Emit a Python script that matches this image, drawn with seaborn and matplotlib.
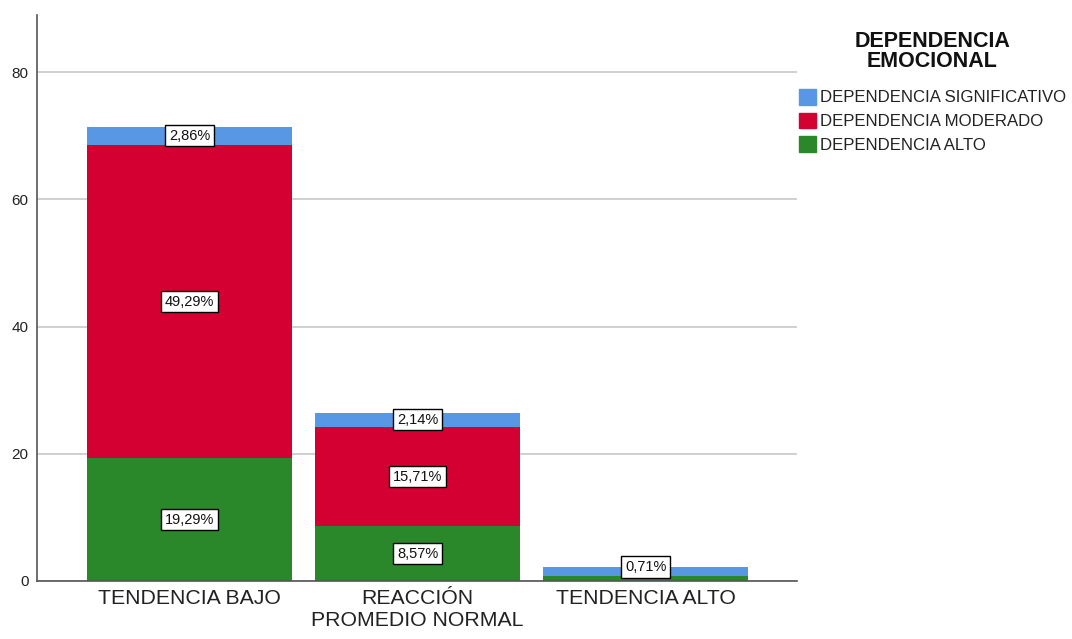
import matplotlib
matplotlib.use("Agg")
import matplotlib.pyplot as plt
import matplotlib.patches as mpatches
import numpy as np
import pandas as pd
import seaborn as sns

categories = ["TENDENCIA BAJO", "REACCIÓN\nPROMEDIO NORMAL", "TENDENCIA ALTO"]
series = ["DEPENDENCIA SIGNIFICATIVO", "DEPENDENCIA MODERADO", "DEPENDENCIA ALTO"]
alto = [19.29, 8.57, 0.71]
moderado = [49.29, 15.71, 0.0]
significativo = [2.86, 2.14, 1.43]
colors = {"DEPENDENCIA SIGNIFICATIVO": "#5897E3",
          "DEPENDENCIA MODERADO": "#D50032",
          "DEPENDENCIA ALTO": "#2A882A"}

sns.set_style("white")
plt.rcParams["font.family"] = ["Liberation Sans", "DejaVu Sans"]
plt.rcParams["text.color"] = "#111111"

df = pd.DataFrame({"cat": categories, "alto": alto, "moderado": moderado,
                   "significativo": significativo})
df["cum_mod"] = df["alto"] + df["moderado"]
df["cum_sig"] = df["cum_mod"] + df["significativo"]

fig = plt.figure(figsize=(10.72, 6.39), dpi=100)
ax = fig.add_axes([0.0345, 0.0908, 0.709, 0.8857])

# stacked by overlaying cumulative totals
for col, name in [("cum_sig", series[0]), ("cum_mod", series[1]), ("alto", series[2])]:
    sns.barplot(data=df, x="cat", y=col, color=colors[name], width=0.9,
                saturation=1, linewidth=0, ax=ax, zorder=2)

ax.set_xlim(-0.669, 2.664)
ax.set_ylim(0, 89)
ax.set_yticks([0, 20, 40, 60, 80])
ax.yaxis.grid(True, color="#c8c8c8", linewidth=1.2, zorder=0)
ax.set_axisbelow(True)
ax.set_xlabel("")
ax.set_ylabel("")
ax.tick_params(axis="y", labelsize=11, length=0, pad=6, labelcolor="#222222")
ax.tick_params(axis="x", labelsize=15.3, length=0, pad=6, labelcolor="#222222")
for s in ["top", "right"]:
    ax.spines[s].set_visible(False)
for s in ["left", "bottom"]:
    ax.spines[s].set_color("#555555")
    ax.spines[s].set_linewidth(1.2)

box = dict(boxstyle="square,pad=0.25", facecolor="white", edgecolor="black", linewidth=1)
for i in range(len(categories)):
    segs = [(alto[i], 0), (moderado[i], alto[i]), (significativo[i], alto[i] + moderado[i])]
    if i == 2:
        ax.text(i, 2.2, "0,71%", ha="center", va="center", fontsize=10.5, bbox=box, zorder=5)
        continue
    for val, base in segs:
        if val <= 0:
            continue
        ax.text(i, base + val / 2, f"{val:.2f}%".replace(".", ","), ha="center",
                va="center", fontsize=10.5, bbox=box, zorder=5)

handles = [mpatches.Patch(color=colors[s], label=s) for s in series]
leg = fig.legend(handles=handles, loc="upper left", bbox_to_anchor=(0.731, 0.975),
                 frameon=False, fontsize=12.1, title="DEPENDENCIA\nEMOCIONAL",
                 title_fontproperties={"weight": "bold", "size": 15.5},
                 handlelength=1.05, handleheight=1.05, handletextpad=0.2,
                 labelspacing=0.42)
leg._legend_box.align = "center"
leg._legend_box.sep = 12
leg.get_title().set_multialignment("center")
leg.get_title().set_linespacing(0.95)
for t in leg.get_texts():
    t.set_color("#222222")

fig.savefig("out.png", dpi=100)
